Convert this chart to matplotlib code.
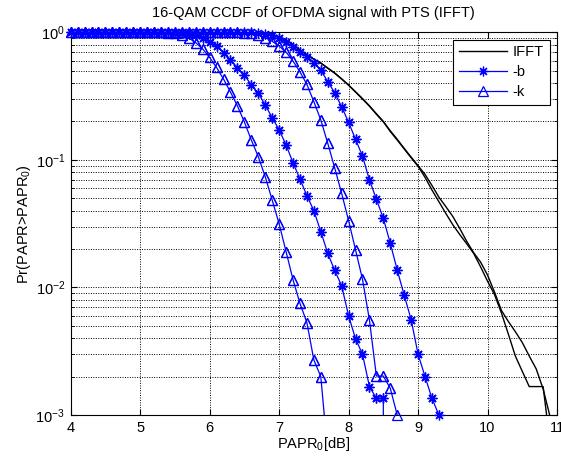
import matplotlib
matplotlib.use("Agg")
import matplotlib.pyplot as plt
from matplotlib.ticker import NullFormatter
import numpy as np

plt.rcParams['font.family'] = ['Liberation Sans', 'DejaVu Sans']
plt.rcParams['mathtext.fontset'] = 'custom'
plt.rcParams['mathtext.rm'] = 'Liberation Sans'
plt.rcParams['mathtext.it'] = 'Liberation Sans:italic'
plt.rcParams['mathtext.default'] = 'regular'
plt.rcParams['font.size'] = 10.5

# сетка PAPR0: 4:0.1:11 дБ
papr0 = np.arange(40, 111) / 10

# CCDF без PTS (два прогона IFFT)
ifft_a = [1.0] * 26 + [
    0.997, 0.99, 0.977, 0.955, 0.922,
    0.87, 0.80, 0.725, 0.665, 0.615,
    0.575, 0.525, 0.48, 0.432, 0.386,
    0.34, 0.30, 0.264, 0.228, 0.199,
    0.167, 0.143, 0.122, 0.104, 0.089,
    0.073, 0.058, 0.047, 0.038, 0.031,
    0.026, 0.022, 0.0185, 0.0145, 0.0112,
    0.0088, 0.0063, 0.0043, 0.0029, 0.0022,
    0.00167, 0.00167, 0.00167, 0.0006, 0.0]
ifft_b = [1.0] * 26 + [
    0.996, 0.99, 0.976, 0.953, 0.92,
    0.868, 0.80, 0.727, 0.667, 0.617,
    0.573, 0.523, 0.478, 0.43, 0.385,
    0.342, 0.302, 0.265, 0.23, 0.20,
    0.169, 0.145, 0.123, 0.105, 0.090,
    0.077, 0.063, 0.051, 0.043, 0.036,
    0.029, 0.023, 0.0187, 0.0158, 0.0125,
    0.0092, 0.0066, 0.0054, 0.0045, 0.0037,
    0.0029, 0.0023, 0.0016, 0.00097, 0.0]

# кривые PTS со звёздочками
star_a = [1.0] * 15 + [
    0.995, 0.985, 0.97, 0.945, 0.90,
    0.845, 0.775, 0.69, 0.607, 0.528,
    0.463, 0.386, 0.333, 0.269, 0.214,
    0.172, 0.131, 0.095, 0.0708, 0.0524,
    0.040, 0.0274, 0.0185, 0.0136, 0.0103,
    0.0060, 0.00395, 0.0030, 0.00167, 0.00135,
    0.00135]
star_b = [1.0] * 27 + [
    0.99, 0.975, 0.95, 0.90,
    0.835, 0.765, 0.70, 0.64, 0.578,
    0.505, 0.41, 0.336, 0.261, 0.197,
    0.145, 0.107, 0.0696, 0.0491, 0.0348,
    0.0222, 0.0137, 0.0087, 0.0056, 0.0030,
    0.0020, 0.00135, 0.00100]

# кривые PTS с треугольниками
tri_a = [1.0] * 14 + [
    0.995, 0.98, 0.95, 0.90, 0.83, 0.74,
    0.635, 0.53, 0.43, 0.34, 0.265,
    0.198, 0.143, 0.106, 0.0738, 0.0485,
    0.0315, 0.0191, 0.0115, 0.0075, 0.0053,
    0.0027, 0.0020, 0.0005]
tri_b = [1.0] * 25 + [
    0.995, 0.98, 0.955, 0.91, 0.85,
    0.78, 0.70, 0.595, 0.49, 0.39,
    0.286, 0.2055, 0.135, 0.0865, 0.0547,
    0.0334, 0.0197, 0.0116, 0.00556, 0.00202,
    0.00202, 0.00162, 0.00100]


def pad(v):
    # дополняем нулями до конца сетки
    return np.array(v + [0.0] * (len(papr0) - len(v)))


fig = plt.figure(figsize=(5.61, 4.59), dpi=100)
ax = fig.add_axes([0.126, 0.0959, 0.8669, 0.8337])
ax.set_yscale('log', nonpositive='clip')

star = (8, 2, 0)


def curve(y, color, marker, label=None, lw=0.9):
    y = pad(y)
    kw = dict(color=color, lw=lw)
    mk = dict()
    if marker is not None:
        ms = 7.5 if marker == '^' else 7
        mk = dict(marker=marker, ms=ms, mew=0.9, mfc='none', mec=color)
    line, = ax.plot(papr0, y, label=label, **kw, **mk)
    if marker is not None:
        # маркеры на границах осей рисуем целиком, как в MATLAB
        m = (y >= 0.00099) & (y <= 1.0)
        ax.plot(papr0[m], y[m], ls='none', clip_on=False, zorder=3, **mk)
    return line


h1 = curve(ifft_a, 'k', None, 'IFFT', lw=1.0)
h2 = curve(star_a, 'b', star, '-b')
h3 = curve(tri_a, 'b', '^', '-k')
curve(ifft_b, 'k', None, lw=1.0)
curve(star_b, 'b', star)
curve(tri_b, 'b', '^')

ax.set_xlim(4, 11)
ax.set_ylim(1e-3, 1)
ax.set_xticks(range(4, 12))
ax.yaxis.set_minor_formatter(NullFormatter())

ax.grid(True, which='major', ls=(0, (1, 1.5)), color='k', lw=0.7)
ax.grid(True, which='minor', axis='y', ls=(0, (1, 1.5)), color='k', lw=0.7)
ax.tick_params(which='both', direction='in', top=True, right=True)
ax.tick_params(which='major', length=4, pad=4)
ax.tick_params(which='minor', length=2)
for s in ax.spines.values():
    s.set_linewidth(0.8)

ax.set_title('16-QAM CCDF of OFDMA signal with PTS (IFFT)', fontsize=10.5, pad=11)
ax.set_xlabel('PAPR$_0$[dB]', labelpad=0)
ax.set_ylabel('Pr(PAPR>PAPR$_0$)')
ax.yaxis.set_label_coords(-0.0775, 0.5)

leg = ax.legend(handles=[h1, h2, h3], loc='upper right', fancybox=False,
                edgecolor='k', framealpha=1, handlelength=3.3,
                handletextpad=0.4, labelspacing=0.4, borderaxespad=0.5)
leg.get_frame().set_linewidth(0.8)

fig.savefig('out.png', dpi=100)
